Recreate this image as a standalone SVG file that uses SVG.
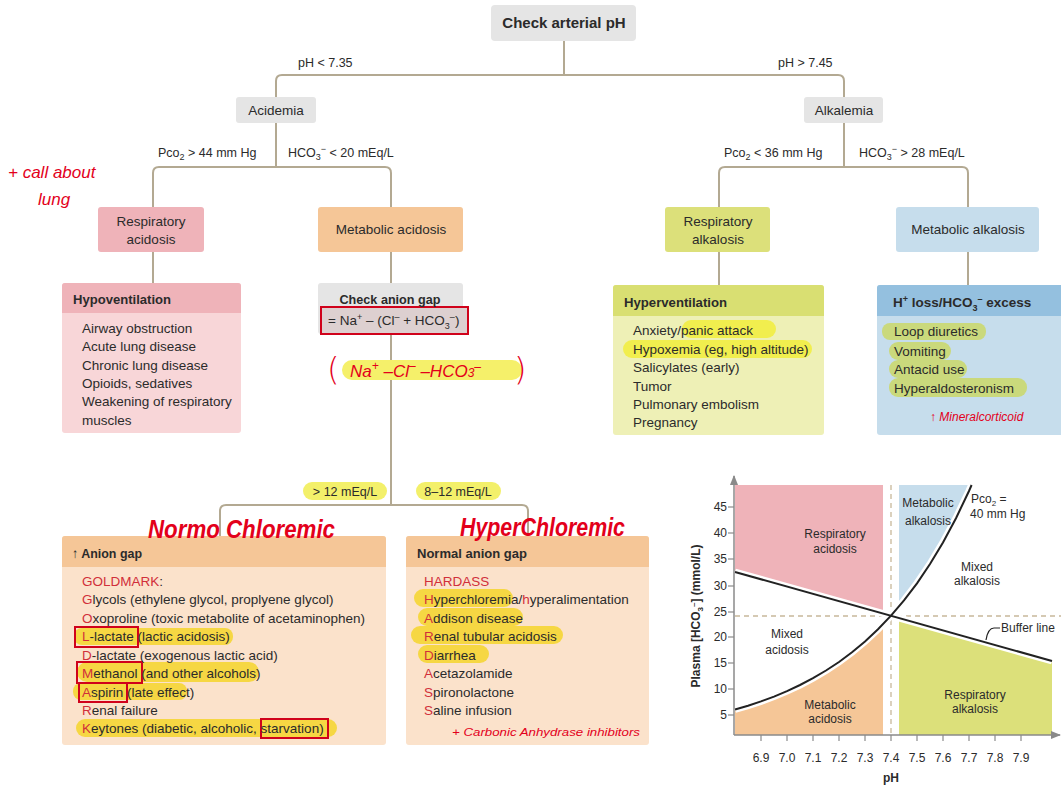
<svg xmlns="http://www.w3.org/2000/svg" width="1061" height="785" viewBox="0 0 1061 785">
<style>
text{font-family:'Liberation Sans',Arial,sans-serif;fill:#2b2b2b}
.b{font-weight:bold}
.n{font-size:13.5px;text-anchor:middle}
.l{font-size:12.5px}
.s{font-size:13.5px}
.h{font-size:13.5px;font-weight:bold}
.r{fill:#d12f3a}
.g{font-size:12px}
.gc{font-size:12px;text-anchor:middle}
.hand{font-style:italic;fill:#e3001b}
.par{font-family:'DejaVu Sans','Liberation Sans',sans-serif;font-weight:200;fill:#e3001b}
.conn{fill:none;stroke:#b3a992;stroke-width:2}
.hy{fill:#f1ee4e}
.ho{fill:#f6d743}
.hg{fill:#cad97c}
.rb{fill:none;stroke:#d0021b;stroke-width:2}
</style>
<defs>
<marker id="ax" viewBox="0 0 10 10" refX="9" refY="5" markerWidth="7" markerHeight="7" orient="auto"><path d="M0,1 L10,5 L0,9 Z" fill="#8a8a8a"/></marker>
</defs>
<rect width="1061" height="785" fill="#ffffff"/>

<g id="connectors">
<path class="conn" d="M564,41 V75"/>
<path class="conn" d="M276,97 V81 Q276,75 282,75 H838 Q844,75 844,81 V97"/>
<path class="conn" d="M276,123 V167"/>
<path class="conn" d="M153,207 V173 Q153,167 159,167 H385 Q391,167 391,173 V207"/>
<path class="conn" d="M844,123 V167"/>
<path class="conn" d="M719,207 V173 Q719,167 725,167 H962 Q968,167 968,173 V207"/>
<path class="conn" d="M153,252 V283"/>
<path class="conn" d="M391,252 V283"/>
<path class="conn" d="M719,252 V285"/>
<path class="conn" d="M968,252 V285"/>
<path class="conn" d="M391,334 V505"/>
<path class="conn" d="M220,536 V511 Q220,505 226,505 H522 Q528,505 528,511 V536"/>
<text class="l" x="298" y="67">pH &lt; 7.35</text>
<text class="l" x="778" y="67">pH &gt; 7.45</text>
<text class="l" x="158" y="157">Pco<tspan dy="3" font-size="9">2</tspan><tspan dy="-3"> &gt; 44 mm Hg</tspan></text>
<text class="l" x="288" y="157">HCO<tspan dy="3" font-size="9">3</tspan><tspan dy="-8" font-size="9">−</tspan><tspan dy="5"> &lt; 20 mEq/L</tspan></text>
<text class="l" x="724" y="157">Pco<tspan dy="3" font-size="9">2</tspan><tspan dy="-3"> &lt; 36 mm Hg</tspan></text>
<text class="l" x="859" y="157">HCO<tspan dy="3" font-size="9">3</tspan><tspan dy="-8" font-size="9">−</tspan><tspan dy="5"> &gt;  28 mEq/L</tspan></text>
<rect x="303" y="482" width="84" height="18" rx="9" fill="#f3f06a"/>
<text class="l" x="345" y="496" text-anchor="middle">&gt; 12 mEq/L</text>
<rect x="416" y="482" width="85" height="18" rx="9" fill="#f3f06a"/>
<text class="l" x="458" y="496" text-anchor="middle">8–12 mEq/L</text>
</g>

<g id="check-ph">
<rect x="491" y="5" width="145" height="36" rx="4" fill="#e5e5e5"/>
<text class="b" x="564" y="28" font-size="15" text-anchor="middle">Check arterial pH</text>
</g>
<g id="acidemia">
<rect x="236" y="97" width="80" height="26" rx="3" fill="#e5e5e5"/>
<text class="n" x="276" y="115">Acidemia</text>
</g>
<g id="alkalemia">
<rect x="804" y="97" width="79" height="26" rx="3" fill="#e5e5e5"/>
<text class="n" x="844" y="115">Alkalemia</text>
</g>
<g id="resp-acidosis">
<rect x="98" y="207" width="106" height="45" rx="3" fill="#efb3b9"/>
<text class="n" x="151" y="226">Respiratory</text>
<text class="n" x="151" y="244">acidosis</text>
</g>
<g id="met-acidosis">
<rect x="318" y="207" width="145" height="45" rx="3" fill="#f5c697"/>
<text class="n" x="391" y="234">Metabolic acidosis</text>
</g>
<g id="resp-alkalosis">
<rect x="665" y="207" width="105" height="45" rx="3" fill="#dce07a"/>
<text class="n" x="718" y="226">Respiratory</text>
<text class="n" x="718" y="244">alkalosis</text>
</g>
<g id="met-alkalosis">
<rect x="896" y="207" width="143" height="45" rx="3" fill="#c6ddec"/>
<text class="n" x="968" y="234">Metabolic alkalosis</text>
</g>

<g id="hypoventilation">
<rect x="62" y="283" width="179" height="150" rx="3" fill="#f8d6d8"/>
<path d="M62,313 V286 Q62,283 65,283 H238 Q241,283 241,286 V313 Z" fill="#efb3b9"/>
<text class="h" x="73" y="304" textLength="98" lengthAdjust="spacingAndGlyphs">Hypoventilation</text>
<text class="s" x="82" y="333">Airway obstruction</text>
<text class="s" x="82" y="351">Acute lung disease</text>
<text class="s" x="82" y="370">Chronic lung disease</text>
<text class="s" x="82" y="388">Opioids, sedatives</text>
<text class="s" x="82" y="406">Weakening of respiratory</text>
<text class="s" x="82" y="425">muscles</text>
</g>

<g id="anion-gap">
<rect x="318" y="283" width="145" height="51" rx="3" fill="#e5e5e5"/>
<rect x="321" y="307" width="147" height="27" fill="#ddd0d0"/>
<rect class="rb" x="321" y="307" width="147" height="27"/>
<text class="h" x="390" y="304" text-anchor="middle" textLength="101" lengthAdjust="spacingAndGlyphs">Check anion gap</text>
<text class="s" x="328" y="325">= Na<tspan dy="-5" font-size="9">+</tspan><tspan dy="5"> – (Cl</tspan><tspan dy="-5" font-size="9">–</tspan><tspan dy="5"> + HCO</tspan><tspan dy="4" font-size="9">3</tspan><tspan dy="-9" font-size="9">–</tspan><tspan dy="5">)</tspan></text>
</g>

<g id="hyperventilation">
<rect x="613" y="285" width="211" height="150" rx="3" fill="#eef0b6"/>
<path d="M613,316 V288 Q613,285 616,285 H821 Q824,285 824,288 V316 Z" fill="#d9df72"/>
<text class="h" x="624" y="307" textLength="103" lengthAdjust="spacingAndGlyphs">Hyperventilation</text>
<rect class="hy" x="682" y="320" width="94" height="18" rx="9"/>
<rect class="hy" x="623" y="340" width="189" height="18" rx="9"/>
<text class="s" x="633" y="335">Anxiety/panic attack</text>
<text class="s" x="633" y="354">Hypoxemia (eg, high altitude)</text>
<text class="s" x="633" y="372">Salicylates (early)</text>
<text class="s" x="633" y="391">Tumor</text>
<text class="s" x="633" y="409">Pulmonary embolism</text>
<text class="s" x="633" y="427">Pregnancy</text>
</g>

<g id="h-loss">
<rect x="877" y="285" width="195" height="150" rx="3" fill="#c6ddec"/>
<path d="M877,316 V288 Q877,285 880,285 H1072 V316 Z" fill="#94c0df"/>
<text class="h" x="893" y="307">H<tspan dy="-5" font-size="9">+</tspan><tspan dy="5"> loss/HCO</tspan><tspan dy="4" font-size="9">3</tspan><tspan dy="-9" font-size="9">–</tspan><tspan dy="5"> excess</tspan></text>
<rect class="hg" x="882" y="323" width="104" height="17" rx="8"/>
<rect class="hg" x="889" y="342" width="62" height="18" rx="9"/>
<rect class="hg" x="889" y="360" width="78" height="18" rx="9"/>
<rect class="hg" x="889" y="378" width="138" height="19" rx="9"/>
<text class="s" x="894" y="336">Loop diuretics</text>
<text class="s" x="894" y="356">Vomiting</text>
<text class="s" x="894" y="374">Antacid use</text>
<text class="s" x="894" y="393">Hyperaldosteronism</text>
</g>

<g id="increased-ag">
<rect x="62" y="536" width="324" height="209" rx="3" fill="#fbe2cb"/>
<path d="M62,567 V539 Q62,536 65,536 H383 Q386,536 386,539 V567 Z" fill="#f5c697"/>
<text class="h" x="72" y="558" textLength="70" lengthAdjust="spacingAndGlyphs">↑ Anion gap</text>
<rect class="ho" x="74" y="628" width="159" height="17" rx="8"/>
<rect class="ho" x="77" y="662" width="182" height="20" rx="10"/>
<rect class="ho" x="73" y="683" width="114" height="17" rx="8"/>
<rect class="ho" x="76" y="719" width="261" height="18" rx="9"/>
<rect class="rb" x="75" y="627" width="63" height="20"/>
<rect class="rb" x="77" y="662" width="65" height="21"/>
<rect class="rb" x="79" y="683" width="48" height="19"/>
<rect class="rb" x="261" y="719" width="67" height="19"/>
<text class="s" x="82" y="586"><tspan class="r">GOLDMARK</tspan>:</text>
<text class="s" x="82" y="604"><tspan class="r">G</tspan>lycols (ethylene glycol, proplyene glycol)</text>
<text class="s" x="82" y="623"><tspan class="r">O</tspan>xoproline (toxic metabolite of acetaminophen)</text>
<text class="s" x="82" y="641"><tspan class="r">L</tspan>-lactate (lactic acidosis)</text>
<text class="s" x="82" y="660"><tspan class="r">D</tspan>-lactate (exogenous lactic acid)</text>
<text class="s" x="82" y="678"><tspan class="r">M</tspan>ethanol (and other alcohols)</text>
<text class="s" x="82" y="697"><tspan class="r">A</tspan>spirin (late effect)</text>
<text class="s" x="82" y="715"><tspan class="r">R</tspan>enal failure</text>
<text class="s" x="82" y="733"><tspan class="r">K</tspan>eytones (diabetic, alcoholic, starvation)</text>
</g>

<g id="normal-ag">
<rect x="406" y="536" width="243" height="209" rx="3" fill="#fbe2cb"/>
<path d="M406,567 V539 Q406,536 409,536 H646 Q649,536 649,539 V567 Z" fill="#f5c697"/>
<text class="h" x="417" y="558" textLength="110" lengthAdjust="spacingAndGlyphs">Normal anion gap</text>
<rect class="ho" x="414" y="589" width="99" height="18" rx="9"/>
<rect class="ho" x="418" y="608" width="105" height="18" rx="9"/>
<rect class="ho" x="411" y="626" width="152" height="18" rx="9"/>
<rect class="ho" x="418" y="645" width="71" height="18" rx="9"/>
<text class="s r" x="424" y="586">HARDASS</text>
<text class="s" x="424" y="604"><tspan class="r">H</tspan>yperchloremia/<tspan class="r">h</tspan>yperalimentation</text>
<text class="s" x="424" y="623"><tspan class="r">A</tspan>ddison disease</text>
<text class="s" x="424" y="641"><tspan class="r">R</tspan>enal tubular acidosis</text>
<text class="s" x="424" y="660"><tspan class="r">D</tspan>iarrhea</text>
<text class="s" x="424" y="678"><tspan class="r">A</tspan>cetazolamide</text>
<text class="s" x="424" y="697"><tspan class="r">S</tspan>pironolactone</text>
<text class="s" x="424" y="715"><tspan class="r">S</tspan>aline infusion</text>
</g>

<g id="graph">
<line x1="891" y1="485" x2="891" y2="735" stroke="#c8b89a" stroke-width="1.3" stroke-dasharray="5,4"/>
<line x1="735" y1="616" x2="1061" y2="616" stroke="#c8b89a" stroke-width="1.3" stroke-dasharray="5,4"/>
<polygon points="735,485 883,485 883,613.6 735,572" fill="#efb3b9"/>
<polygon points="899,606.5 904,600.4 917,583.3 930,564 943,542.4 956,518.2 969,491 971.6,485 899,485" fill="#c6ddec"/>
<polygon points="735,735 735,709.5 748,705.7 761,701.4 774,696.6 787,691.1 800,685 813,678.2 826,670.5 839,662 852,652.3 865,641.5 878,629.3 883,624.3 883,735" fill="#f5c697"/>
<polygon points="899,618.1 1052,661.1 1052,735 899,735" fill="#dce07a"/>
<line x1="735" y1="572" x2="1052" y2="661" stroke="#ffffff" stroke-width="7"/>
<path d="M735,709.5 L748,705.7 761,701.4 774,696.6 787,691.1 800,685 813,678.2 826,670.5 839,662 852,652.3 865,641.5 878,629.3 891,615.7 904,600.4 917,583.3 930,564 943,542.4 956,518.2 969,491 971.6,485" fill="none" stroke="#ffffff" stroke-width="7"/>
<line x1="735" y1="572" x2="1052" y2="661" stroke="#222" stroke-width="2"/>
<path d="M735,709.5 L748,705.7 761,701.4 774,696.6 787,691.1 800,685 813,678.2 826,670.5 839,662 852,652.3 865,641.5 878,629.3 891,615.7 904,600.4 917,583.3 930,564 943,542.4 956,518.2 969,491 971.6,485" fill="none" stroke="#222" stroke-width="2"/>
<line x1="734" y1="735" x2="734" y2="476" stroke="#8a8a8a" stroke-width="1.5" marker-end="url(#ax)"/>
<line x1="734" y1="735" x2="1060" y2="735" stroke="#8a8a8a" stroke-width="1.5" marker-end="url(#ax)"/>
<g stroke="#8a8a8a" stroke-width="1.2">
<line x1="728" y1="507" x2="734" y2="507"/><line x1="728" y1="533" x2="734" y2="533"/><line x1="728" y1="559" x2="734" y2="559"/><line x1="728" y1="586" x2="734" y2="586"/><line x1="728" y1="612" x2="734" y2="612"/><line x1="728" y1="637" x2="734" y2="637"/><line x1="728" y1="663" x2="734" y2="663"/><line x1="728" y1="689" x2="734" y2="689"/><line x1="728" y1="715" x2="734" y2="715"/>
<line x1="761" y1="735" x2="761" y2="741"/><line x1="787" y1="735" x2="787" y2="741"/><line x1="813" y1="735" x2="813" y2="741"/><line x1="839" y1="735" x2="839" y2="741"/><line x1="865" y1="735" x2="865" y2="741"/><line x1="891" y1="735" x2="891" y2="741"/><line x1="917" y1="735" x2="917" y2="741"/><line x1="943" y1="735" x2="943" y2="741"/><line x1="969" y1="735" x2="969" y2="741"/><line x1="995" y1="735" x2="995" y2="741"/><line x1="1021" y1="735" x2="1021" y2="741"/>
</g>
<text class="g" x="727" y="511" text-anchor="end">45</text>
<text class="g" x="727" y="537" text-anchor="end">40</text>
<text class="g" x="727" y="563" text-anchor="end">35</text>
<text class="g" x="727" y="590" text-anchor="end">30</text>
<text class="g" x="727" y="616" text-anchor="end">25</text>
<text class="g" x="727" y="641" text-anchor="end">20</text>
<text class="g" x="727" y="667" text-anchor="end">15</text>
<text class="g" x="727" y="693" text-anchor="end">10</text>
<text class="g" x="727" y="719" text-anchor="end">5</text>
<text class="gc" x="761" y="762">6.9</text>
<text class="gc" x="787" y="762">7.0</text>
<text class="gc" x="813" y="762">7.1</text>
<text class="gc" x="839" y="762">7.2</text>
<text class="gc" x="865" y="762">7.3</text>
<text class="gc" x="891" y="762">7.4</text>
<text class="gc" x="917" y="762">7.5</text>
<text class="gc" x="943" y="762">7.6</text>
<text class="gc" x="969" y="762">7.7</text>
<text class="gc" x="995" y="762">7.8</text>
<text class="gc" x="1021" y="762">7.9</text>
<text class="gc b" x="891" y="782">pH</text>
<text class="gc b" x="700" y="616" transform="rotate(-90 700 616)">Plasma [HCO<tspan dy="3" font-size="8">3</tspan><tspan dy="-7" font-size="8">–</tspan><tspan dy="4">] (mmol/L)</tspan></text>
<text class="gc" x="835" y="538">Respiratory</text>
<text class="gc" x="835" y="553">acidosis</text>
<text class="gc" x="928" y="507">Metabolic</text>
<text class="gc" x="928" y="525">alkalosis</text>
<text class="g" x="971" y="503">Pco<tspan dy="3" font-size="8">2</tspan><tspan dy="-3"> =</tspan></text>
<text class="g" x="970" y="518">40 mm Hg</text>
<text class="gc" x="977" y="571">Mixed</text>
<text class="gc" x="977" y="585">alkalosis</text>
<text class="gc" x="787" y="638">Mixed</text>
<text class="gc" x="787" y="654">acidosis</text>
<path d="M1000,628 H994 Q988,628 986,640" fill="none" stroke="#222" stroke-width="1.2"/>
<text class="g" x="1001" y="632">Buffer line</text>
<text class="gc" x="830" y="709">Metabolic</text>
<text class="gc" x="830" y="723">acidosis</text>
<text class="gc" x="975" y="699">Respiratory</text>
<text class="gc" x="975" y="713">alkalosis</text>
</g>

<g id="annotations">
<text class="hand" x="8" y="178" font-size="17">+ call about</text>
<text class="hand" x="38" y="205" font-size="17">lung</text>
<rect x="342" y="360" width="180" height="20" rx="10" fill="#f5f06a"/>
<text class="par" x="327" y="380" font-size="32">(</text>
<text class="hand" x="350" y="377" font-size="17">Na<tspan dy="-7" font-size="12">+</tspan><tspan dy="7">  –Cl</tspan><tspan dy="-7" font-size="12">–</tspan><tspan dy="7">  –HCO</tspan><tspan dy="0" font-size="12">3</tspan><tspan dy="-6" font-size="12">–</tspan></text>
<text class="par" x="514" y="380" font-size="32">)</text>
<text class="hand" x="930" y="421" font-size="12">↑ Mineralcorticoid</text>
<text class="hand b" x="148" y="538" font-size="25" textLength="187" lengthAdjust="spacingAndGlyphs">Normo Chloremic</text>
<text class="hand b" x="460" y="536" font-size="25" textLength="165" lengthAdjust="spacingAndGlyphs">HyperChloremic</text>
<text class="hand" x="452" y="736" font-size="11.5" textLength="188" lengthAdjust="spacingAndGlyphs">+ Carbonic Anhydrase inhibitors</text>
</g>
</svg>
